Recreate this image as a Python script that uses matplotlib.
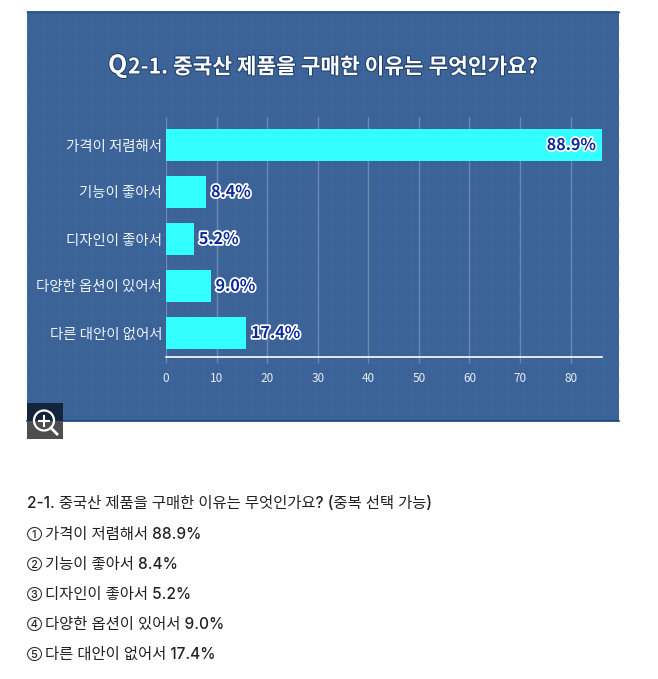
#IMPORT LIBRARIES
import numpy as np
import matplotlib
matplotlib.use("Agg")
import matplotlib.pyplot as plt
import matplotlib.patheffects as pe
from matplotlib.patches import Rectangle, Circle

categories = ["가격이 저렴해서", "기능이 좋아서", "디자인이 좋아서", "다양한 옵션이 있어서", "다른 대안이 없어서"]
bar_lengths = [86.2, 7.9, 5.5, 8.8, 15.8]
value_labels = ["88.9%", "8.4%", "5.2%", "9.0%", "17.4%"]
x_ticks = [0, 10, 20, 30, 40, 50, 60, 70, 80]
chart_title = "2-1. 중국산 제품을 구매한 이유는 무엇인가요?"
body_heading = "2-1. 중국산 제품을 구매한 이유는 무엇인가요? (중복 선택 가능)"
body_marks = ["①", "②", "③", "④", "⑤"]
body_lines = [
    "가격이 저렴해서 88.9%",
    "기능이 좋아서 8.4%",
    "디자인이 좋아서 5.2%",
    "다양한 옵션이 있어서 9.0%",
    "다른 대안이 없어서 17.4%",
]

KR = ["Noto Sans CJK KR", "DejaVu Sans"]
BODY = ["Inter", "Noto Sans CJK KR", "DejaVu Sans"]
W, H = 658, 679

fig = plt.figure(figsize=(W/100, H/100), dpi=100, facecolor="white")

#BACKGROUND LAYER IN PIXEL COORDS
bg = fig.add_axes([0, 0, 1, 1], zorder=0)
bg.set_xlim(0, W)
bg.set_ylim(H, 0)
bg.axis("off")
bg.add_patch(Rectangle((27, 11), 592, 410, fc="#3c6398", ec="none"))
for x in np.arange(27, 619, 16):
    bg.plot([x, x], [11, 421], color="#4a70a3", lw=.8, alpha=.3)
for y in np.arange(11, 421, 16):
    bg.plot([27, 619], [y, y], color="#4a70a3", lw=.8, alpha=.3)
bg.plot([27, 619], [11.5, 11.5], color="#2a5288", lw=1)
bg.plot([27, 619], [420.5, 420.5], color="#14467f", lw=1.2)

#TITLE
bg.text(108, 66, "Q", color="white", fontsize=18, fontweight="bold", family=KR, va="center", ha="left",
        path_effects=[pe.withStroke(linewidth=1.5, foreground="#20406e")])
bg.text(128, 67, chart_title, color="white", fontsize=15.4, fontweight="bold", family=KR, va="center", ha="left",
        path_effects=[pe.withStroke(linewidth=1.5, foreground="#20406e")])

#ZOOM ICON
bg.add_patch(Rectangle((27, 403), 36, 18, fc="#14243c", ec="none", zorder=5))
bg.add_patch(Rectangle((27, 421), 36, 18, fc="#4e4e4e", ec="none", zorder=5))
bg.add_patch(Circle((44, 420.5), 10, fc="none", ec="white", lw=1.6, zorder=6))
bg.plot([51, 57], [428, 434], color="white", lw=2, zorder=6)
bg.plot([39, 49], [420.5, 420.5], color="white", lw=1.5, zorder=6)
bg.plot([44, 44], [415.5, 425.5], color="white", lw=1.5, zorder=6)

#TEXT UNDER THE IMAGE - CIRCLED NUMBERS ARE SMALLER THAN THE TEXT SO THEY GET THEIR OWN TEXT
bg.text(27, 504, body_heading, color="#222222", fontsize=11.1, fontweight="medium", family=BODY, va="center", ha="left")
for i, (mark, line) in enumerate(zip(body_marks, body_lines)):
    y = 534 + i*30
    bg.text(27, y, mark, color="#222222", fontsize=7.8, fontweight="medium", family=BODY, va="center", ha="left")
    bg.text(45, y, line, color="#222222", fontsize=11.1, fontweight="medium", family=BODY, va="center", ha="left")

#BAR CHART
y_pos = np.arange(len(categories))
ax = fig.add_axes([166/W, 1-357/H, (602-166)/W, (357-117)/H], zorder=1)
ax.patch.set_alpha(0)
ax.barh(y_pos, bar_lengths, height=32/47, color="#33ffff", zorder=2)
ax.set_xlim(0, 86.2)
ax.set_ylim((357-145)/47, (117-145)/47)
ax.set_xticks(x_ticks)
ax.set_yticks(y_pos)
ax.set_yticklabels(categories, family=KR, fontsize=10.4, color="#eef3f8")
ax.set_xticklabels(x_ticks, family=KR, fontsize=8.5, color="#e6edf5")
ax.tick_params(axis="y", length=0, pad=2.8)
ax.tick_params(axis="x", length=4, color="#6a88b2", width=1, pad=7)
ax.grid(axis="x", color="#6a88b2", lw=1, zorder=1)
ax.set_axisbelow(True)
for s in ["top", "right", "left"]:
    ax.spines[s].set_visible(False)
ax.spines["bottom"].set_color("white")
ax.spines["bottom"].set_linewidth(1.2)

#VALUE LABELS - FIRST ONE SITS INSIDE ITS BAR
for i, (v, lab) in enumerate(zip(bar_lengths, value_labels)):
    inside = i == 0
    ax.text(v - 1.2 if inside else v + 1, i, lab, color="#0b2a9e", fontsize=11.6, fontweight="bold", family=KR,
            va="center", ha="right" if inside else "left", zorder=3,
            path_effects=[pe.withStroke(linewidth=2.5, foreground="white")])

fig.savefig("out.png", dpi=100)
